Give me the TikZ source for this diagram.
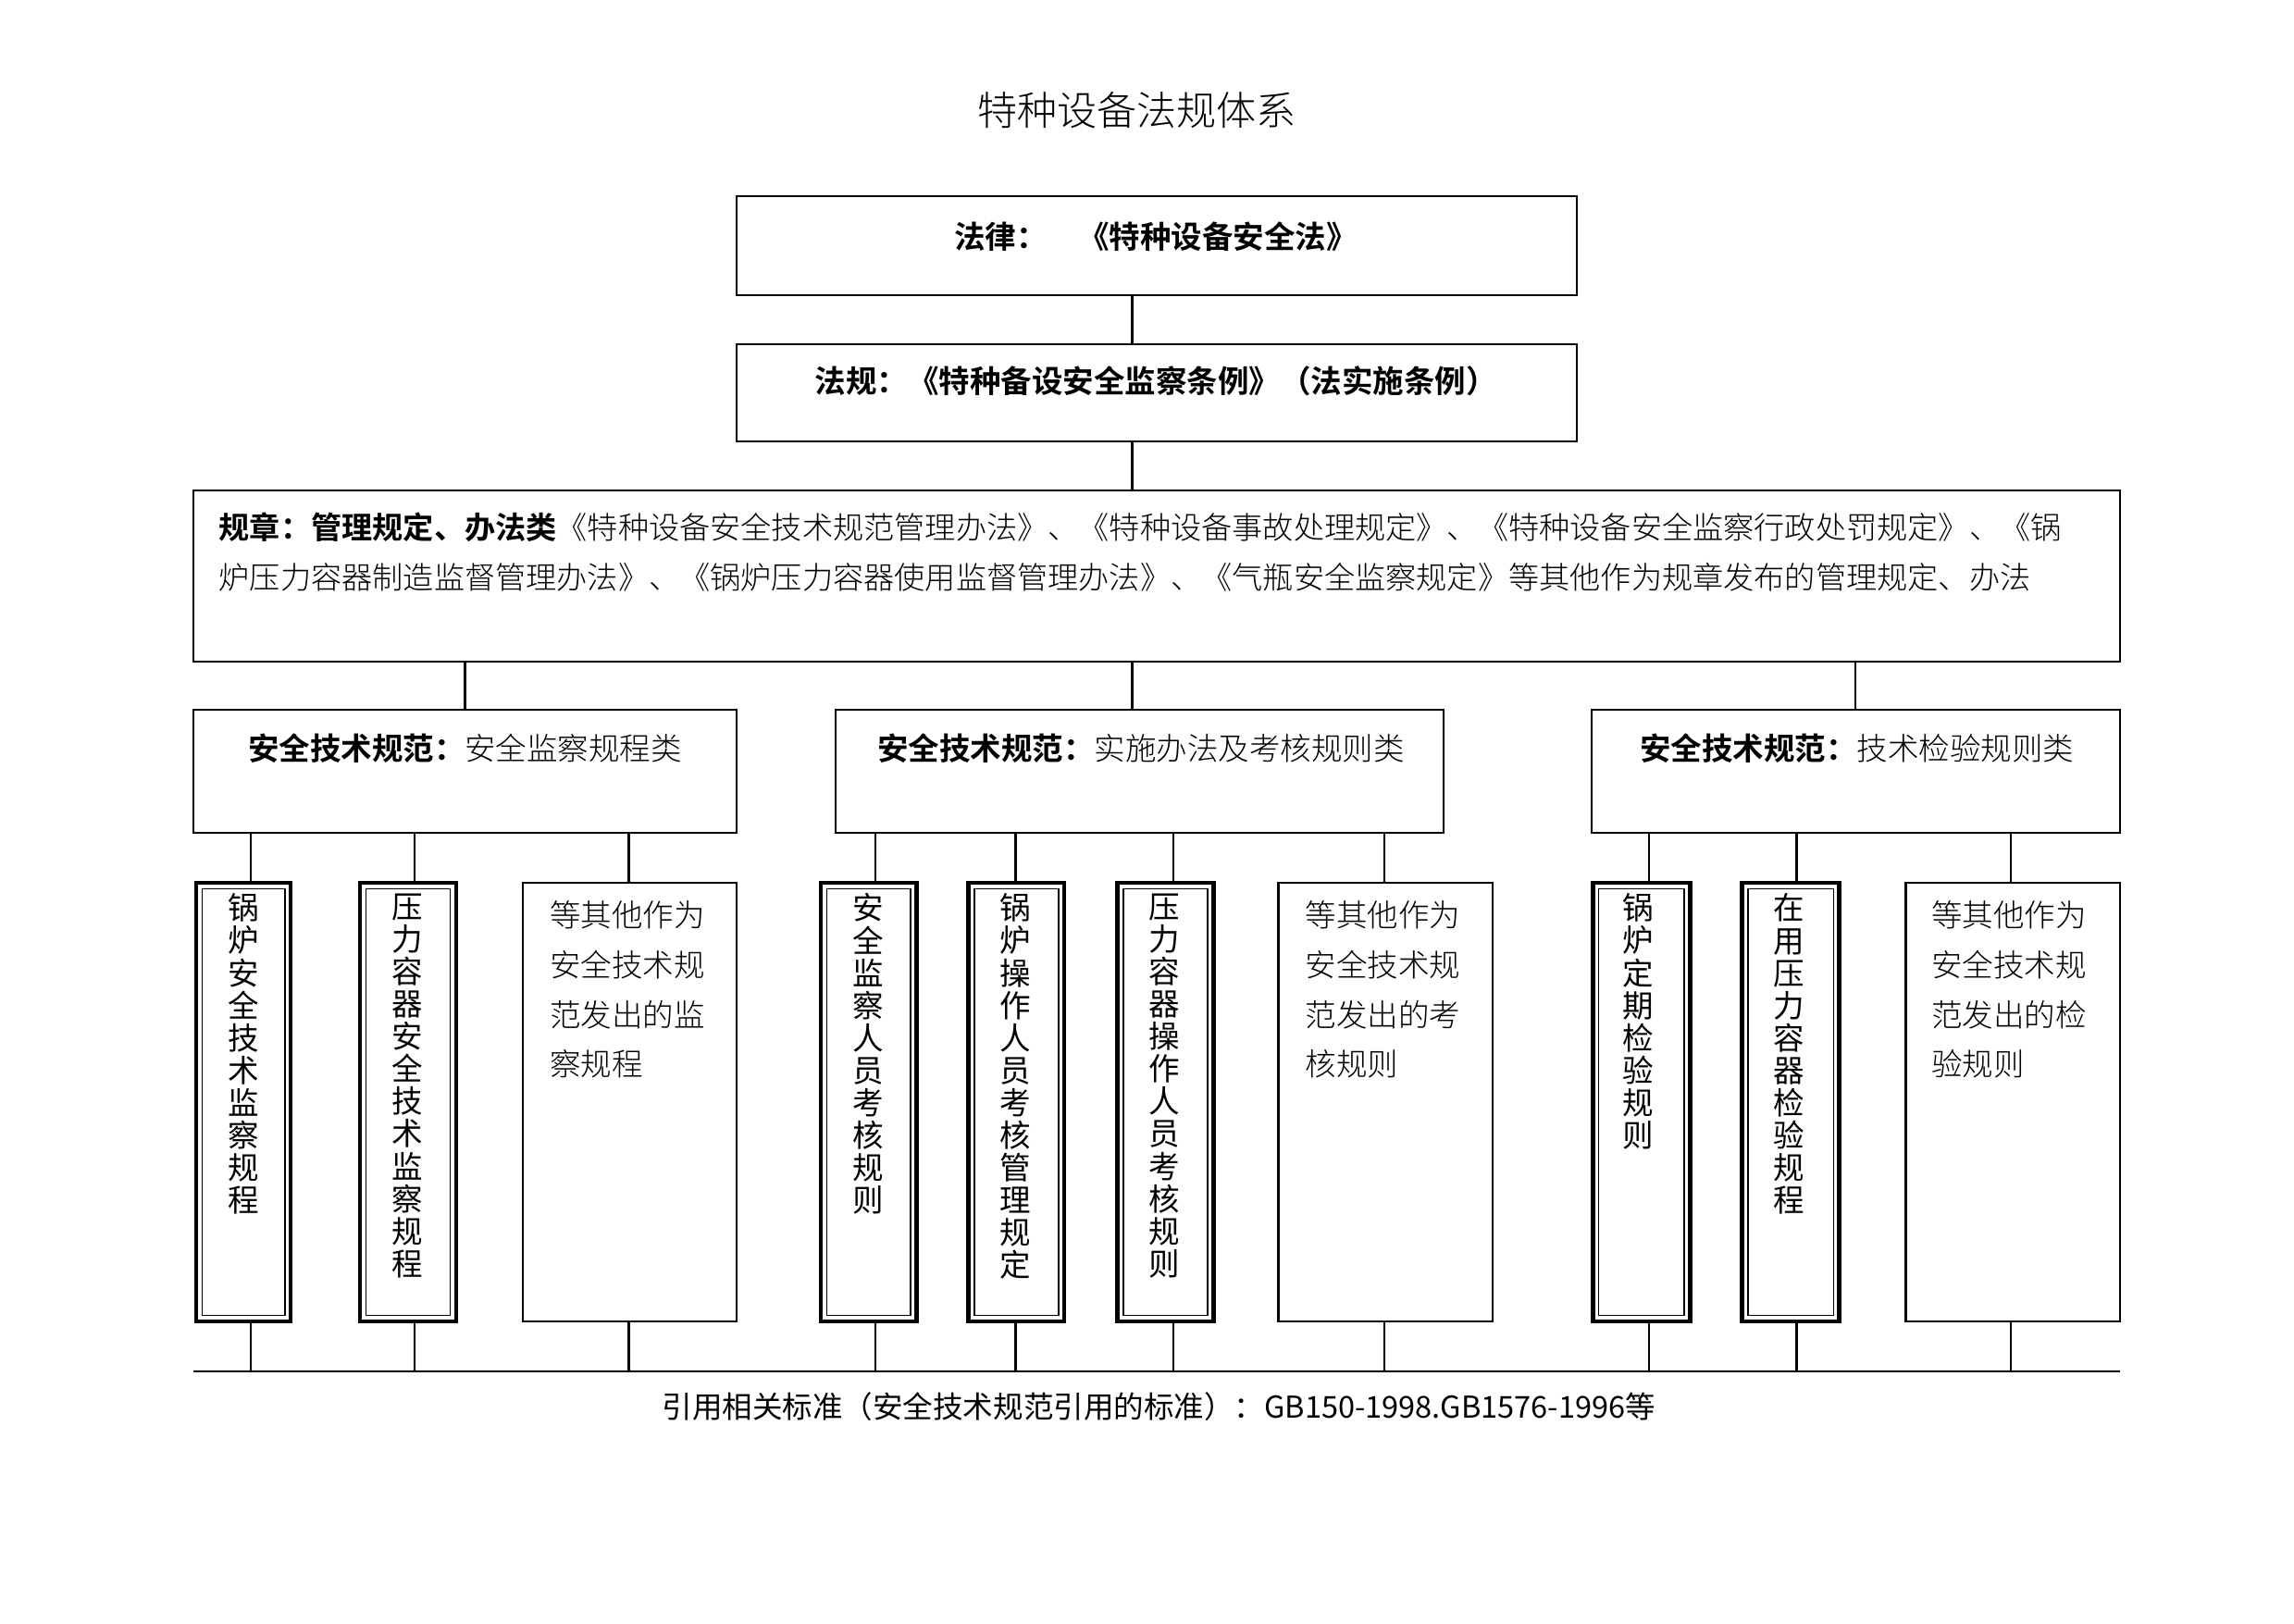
\documentclass[tikz,border=0pt]{standalone}
\usepackage{fontspec}
\setmainfont{Noto Sans CJK SC}
\newfontfamily\cjkb{Noto Sans CJK SC Bold}
\newfontfamily\cjkl{Noto Sans CJK SC Light}
\usetikzlibrary{fit}
\begin{document}
\begin{tikzpicture}[x=0.5pt,y=-0.5pt,
  box/.style={draw,line width=0.7pt,inner sep=0pt,outer sep=0pt},
  vb/.style={draw,line width=1.4pt,inner sep=0pt,outer sep=0pt},
  ln/.style={line width=0.7pt},
  vt/.style={anchor=north,align=center,font=\fontsize{10.5}{11}\selectfont,inner sep=0pt},
  rt/.style={anchor=north west,align=left,font=\cjkl\fontsize{10.5}{16.8}\selectfont,inner sep=0pt},
  ht/.style={font=\fontsize{10.5}{12}\selectfont,inner sep=0pt}]
\useasboundingbox (0,0) rectangle (1554,1100);
\node[font=\cjkl\fontsize{13.5}{16}\selectfont] (title) at (770,75) {特种设备法规体系};
\node[box,fit={(499,133)(1068,200)}] (b1) {};
\node[ht] (t1) at (783,160) {\cjkb 法律：\quad《特种设备安全法》};
\node[box,fit={(499,233)(1068,299)}] (b2) {};
\node[ht] (t2) at (783,258) {\cjkb 法规：《特种备设安全监察条例》（法实施条例）};
\node[box,fit={(131,332)(1436,448)}] (b3) {};
\node[ht,anchor=west,font=\cjkl\fontsize{10.4}{12}\selectfont] (t3a) at (148,357) {{\cjkb 规章：管理规定、办法类}《特种设备安全技术规范管理办法》、《特种设备事故处理规定》、《特种设备安全监察行政处罚规定》、《锅};
\node[ht,anchor=west,font=\cjkl\fontsize{10.4}{12}\selectfont] (t3b) at (148,391) {炉压力容器制造监督管理办法》、《锅炉压力容器使用监督管理办法》、《气瓶安全监察规定》等其他作为规章发布的管理规定、办法};
\draw[ln] (767,0 |- b1.south) -- (767,0 |- b2.north);
\draw[ln] (767,0 |- b2.south) -- (767,0 |- b3.north);
% second row
\node[box,fit={(131,481)(499,564)}] (ra) {};
\node[box,fit={(566,481)(978,564)}] (rb) {};
\node[box,fit={(1078,481)(1436,564)}] (rc) {};
\node[ht,font=\cjkl\fontsize{10.5}{12}\selectfont] (ta) at (315,507) {{\cjkb 安全技术规范：}安全监察规程类};
\node[ht,font=\cjkl\fontsize{10.5}{12}\selectfont] (tb) at (773,507) {{\cjkb 安全技术规范：}实施办法及考核规则类};
\node[ht,font=\cjkl\fontsize{10.5}{12}\selectfont] (tc) at (1258,507) {{\cjkb 安全技术规范：}技术检验规则类};
\draw[ln] (315,0 |- b3.south) -- (315,0 |- ra.north);
\draw[ln] (767,0 |- b3.south) -- (767,0 |- rb.north);
\draw[ln] (1257,0 |- b3.south) -- (1257,0 |- rc.north);
% third row boxes
\node[vb,fit={(133,598)(197,895)}] (a1) {};
\node[vb,fit={(244,598)(309,895)}] (a2) {};
\node[box,fit={(354,598)(499,895)}] (a3) {};
\node[vb,fit={(556,598)(621,895)}] (p1) {};
\node[vb,fit={(656,598)(721,895)}] (p2) {};
\node[vb,fit={(757,598)(822,895)}] (p3) {};
\node[box,fit={(866,598)(1011,895)}] (p4) {};
\node[vb,fit={(1079,598)(1145,895)}] (c1) {};
\node[vb,fit={(1180,598)(1246,895)}] (c2) {};
\node[box,fit={(1291,598)(1436,895)}] (c3) {};
\foreach \n in {a1,a2,p1,p2,p3,c1,c2}{
  \draw[line width=0.5pt] ([shift={(4,4)}]\n.north west) rectangle ([shift={(-4,-4)}]\n.south east);
}
\node[vt] (ta1) at (165,605) {锅\\炉\\安\\全\\技\\术\\监\\察\\规\\程};
\node[vt] (ta2) at (276,605) {压\\力\\容\\器\\安\\全\\技\\术\\监\\察\\规\\程};
\node[rt] (ta3) at (372,610) {等其他作为\\安全技术规\\范发出的监\\察规程};
\node[vt] (tp1) at (588,605) {安\\全\\监\\察\\人\\员\\考\\核\\规\\则};
\node[vt] (tp2) at (688,605) {锅\\炉\\操\\作\\人\\员\\考\\核\\管\\理\\规\\定};
\node[vt] (tp3) at (789,605) {压\\力\\容\\器\\操\\作\\人\\员\\考\\核\\规\\则};
\node[rt] (tp4) at (884,610) {等其他作为\\安全技术规\\范发出的考\\核规则};
\node[vt] (tc1) at (1110,605) {锅\\炉\\定\\期\\检\\验\\规\\则};
\node[vt] (tc2) at (1212,605) {在\\用\\压\\力\\容\\器\\检\\验\\规\\程};
\node[rt] (tc3) at (1308,610) {等其他作为\\安全技术规\\范发出的检\\验规则};
% connectors row2 -> row3 and row3 -> bottom line
\coordinate (bl) at (131,929);
\coordinate (br) at (1436,929);
\draw[ln] (bl) -- (br);
\foreach \x/\r/\b in {170/ra/a1,281/ra/a2,426/ra/a3,593/rb/p1,688/rb/p2,795/rb/p3,938/rb/p4,1117/rc/c1,1217/rc/c2,1362/rc/c3}{
  \draw[ln] (\x,0 |- \r.south) -- (\x,0 |- \b.north);
  \draw[ln] (\x,0 |- \b.south) -- (\x,0 |- bl);
}
\node[ht,font=\fontsize{10.2}{12}\selectfont] (foot) at (785,953) {引用相关标准（安全技术规范引用的标准）：GB150-1998.GB1576-1996等};
\end{tikzpicture}
\end{document}
